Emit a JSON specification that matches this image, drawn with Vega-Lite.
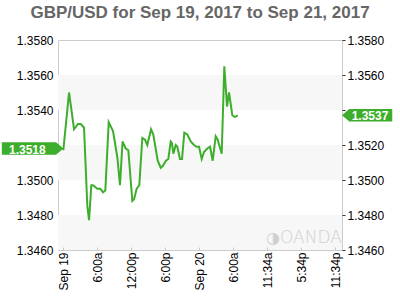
{
  "$schema": "https://vega.github.io/schema/vega-lite/v6.json",
  "width": 284,
  "height": 210,
  "autosize": "none",
  "padding": {"left": 58, "top": 40, "right": 58, "bottom": 50},
  "background": "white",
  "title": {"text": "GBP/USD for Sep 19, 2017 to Sep 21, 2017", "font": "Liberation Sans", "fontSize": 17, "fontWeight": "bold", "color": "#666666", "anchor": "middle", "offset": 12},
  "config": {
    "view": {"stroke": "#cccccc"},
    "font": "Liberation Sans"
  },
  "datasets": {
    "prices": [
      {"h": 0, "v": 1.3517}, {"h": 1.01, "v": 1.3550}, {"h": 1.89, "v": 1.3529}, {"h": 2.59, "v": 1.3532},
      {"h": 3.07, "v": 1.3532}, {"h": 3.65, "v": 1.3530}, {"h": 4.24, "v": 1.3485}, {"h": 4.54, "v": 1.3477},
      {"h": 4.94, "v": 1.3497}, {"h": 5.24, "v": 1.3497}, {"h": 6.0, "v": 1.3495}, {"h": 6.53, "v": 1.3495},
      {"h": 7.0, "v": 1.3493}, {"h": 7.41, "v": 1.3494}, {"h": 8.01, "v": 1.3533}, {"h": 8.77, "v": 1.3528},
      {"h": 9.53, "v": 1.3513}, {"h": 10.0, "v": 1.3497}, {"h": 10.45, "v": 1.3522}, {"h": 11.01, "v": 1.3518},
      {"h": 11.47, "v": 1.3517}, {"h": 12.18, "v": 1.3488}, {"h": 12.48, "v": 1.3489}, {"h": 12.95, "v": 1.3495},
      {"h": 13.41, "v": 1.3497}, {"h": 13.94, "v": 1.3524}, {"h": 14.42, "v": 1.3523}, {"h": 14.82, "v": 1.3520},
      {"h": 15.48, "v": 1.3529}, {"h": 15.88, "v": 1.3526}, {"h": 16.66, "v": 1.3511}, {"h": 17.19, "v": 1.3507},
      {"h": 17.54, "v": 1.3508}, {"h": 18.12, "v": 1.3511}, {"h": 18.53, "v": 1.3512}, {"h": 18.95, "v": 1.3522},
      {"h": 19.18, "v": 1.3521}, {"h": 19.41, "v": 1.3515}, {"h": 19.84, "v": 1.3520}, {"h": 20.12, "v": 1.3519},
      {"h": 20.59, "v": 1.3512}, {"h": 20.95, "v": 1.3512}, {"h": 21.35, "v": 1.3527}, {"h": 21.88, "v": 1.3526},
      {"h": 22.48, "v": 1.3522}, {"h": 23.06, "v": 1.3520}, {"h": 23.54, "v": 1.3519}, {"h": 23.95, "v": 1.3519},
      {"h": 24.42, "v": 1.3512}, {"h": 24.83, "v": 1.3516}, {"h": 25.41, "v": 1.3518}, {"h": 25.89, "v": 1.3519},
      {"h": 26.36, "v": 1.3511}, {"h": 26.89, "v": 1.3525}, {"h": 27.25, "v": 1.3523}, {"h": 27.95, "v": 1.3515},
      {"h": 28.41, "v": 1.3565}, {"h": 28.89, "v": 1.3542}, {"h": 29.24, "v": 1.3550}, {"h": 29.82, "v": 1.3537},
      {"h": 30.3, "v": 1.3536}, {"h": 30.78, "v": 1.3537}
    ],
    "bands": [
      {"lo": 1.3540, "hi": 1.3560},
      {"lo": 1.3500, "hi": 1.3520},
      {"lo": 1.3460, "hi": 1.3480}
    ],
    "openLabel": [{"v": 1.3518, "label": "1.3518"}],
    "lastLabel": [{"v": 1.3537, "label": "1.3537"}],
    "mark": [{"v": 1.34669, "label": "OANDA", "icon": "◑"}]
  },
  "layer": [
    {
      "data": {"name": "bands"},
      "mark": {"type": "rect", "color": "#f7f7f7"},
      "encoding": {
        "y": {"field": "lo", "type": "quantitative", "scale": {"domain": [1.346, 1.358], "nice": false, "zero": false},
          "axis": {"orient": "left", "values": [1.346, 1.348, 1.35, 1.352, 1.354, 1.356, 1.358], "format": ".4f", "labelExpr": "abs(datum.value - 1.352) < 0.00001 ? '' : datum.label", "title": null, "grid": false, "domain": false, "ticks": false, "labelPadding": 5, "labelFontSize": 12, "labelColor": "#000000", "labelFont": "Liberation Sans"}},
        "y2": {"field": "hi"}
      }
    },
    {
      "data": {"name": "prices"},
      "mark": {"type": "line", "color": "#3dae2b", "strokeWidth": 2},
      "encoding": {
        "x": {"field": "h", "type": "quantitative", "title": null, "scale": {"domain": [-0.94, 49.18], "nice": false, "zero": false},
          "axis": {"values": [0, 6, 12, 18, 24, 30, 36, 42, 48], "labelExpr": "['Sep 19','6:00a','12:00p','6:00p','Sep 20','6:00a','11:34a','5:34p','11:34p'][round(datum.value/6)]", "labelAngle": -90, "labelOverlap": false, "labelBound": false, "labelFlush": false, "title": null, "grid": false, "domain": false, "tickSize": -3, "tickColor": "#c8c8c8", "labelPadding": 5, "labelFontSize": 12, "labelColor": "#000000", "labelFont": "Liberation Sans", "zindex": 1}},
        "y": {"field": "v", "type": "quantitative",
          "axis": {"orient": "right", "values": [1.346, 1.348, 1.35, 1.352, 1.354, 1.356, 1.358], "format": ".4f", "labelExpr": "abs(datum.value - 1.354) < 0.00001 ? '' : datum.label", "title": null, "grid": false, "domain": false, "tickSize": 3, "tickColor": "#333333", "labelPadding": 2, "labelFontSize": 12, "labelColor": "#000000", "labelFont": "Liberation Sans"}}
      }
    },
    {
      "data": {"name": "openLabel"},
      "mark": {"type": "point", "shape": "M0,0 L-0.29,-0.25 L-2.46,-0.25 L-2.46,0.25 L-0.29,0.25 Z", "filled": true, "opacity": 1, "color": "#3dae2b", "size": 2500},
      "encoding": {
        "x": {"datum": 0, "type": "quantitative", "axis": null},
        "y": {"field": "v", "type": "quantitative", "axis": null}
      }
    },
    {
      "data": {"name": "openLabel"},
      "mark": {"type": "text", "color": "white", "fontWeight": "bold", "fontSize": 12, "font": "Liberation Sans", "align": "center", "baseline": "middle", "dx": -36, "dy": 1},
      "encoding": {
        "x": {"datum": 0, "type": "quantitative", "axis": null},
        "y": {"field": "v", "type": "quantitative", "axis": null},
        "text": {"field": "label"}
      }
    },
    {
      "data": {"name": "lastLabel"},
      "mark": {"type": "point", "shape": "M0,0 L0.29,-0.25 L2.01,-0.25 L2.01,0.25 L0.29,0.25 Z", "filled": true, "opacity": 1, "color": "#3dae2b", "size": 2500},
      "encoding": {
        "x": {"datum": 49.18, "type": "quantitative", "axis": null},
        "y": {"field": "v", "type": "quantitative", "axis": null}
      }
    },
    {
      "data": {"name": "lastLabel"},
      "mark": {"type": "text", "color": "white", "fontWeight": "bold", "fontSize": 12, "font": "Liberation Sans", "align": "center", "baseline": "middle", "dx": 28, "dy": 1},
      "encoding": {
        "x": {"datum": 49.18, "type": "quantitative", "axis": null},
        "y": {"field": "v", "type": "quantitative", "axis": null},
        "text": {"field": "label"}
      }
    },
    {
      "data": {"name": "mark"},
      "mark": {"type": "text", "color": "#d0d0d0", "fontSize": 17, "font": "DejaVu Sans", "fontWeight": 200, "align": "center", "baseline": "middle"},
      "encoding": {
        "x": {"datum": 43.7, "type": "quantitative", "axis": null},
        "y": {"field": "v", "type": "quantitative", "axis": null},
        "text": {"field": "label"}
      }
    },
    {
      "data": {"name": "mark"},
      "mark": {"type": "text", "color": "#d0d0d0", "fontSize": 16, "font": "DejaVu Sans", "align": "center", "baseline": "middle"},
      "encoding": {
        "x": {"datum": 37.0, "type": "quantitative", "axis": null},
        "y": {"field": "v", "type": "quantitative", "axis": null},
        "text": {"field": "icon"}
      }
    }
  ],
  "resolve": {"axis": {"y": "independent", "x": "independent"}}
}
